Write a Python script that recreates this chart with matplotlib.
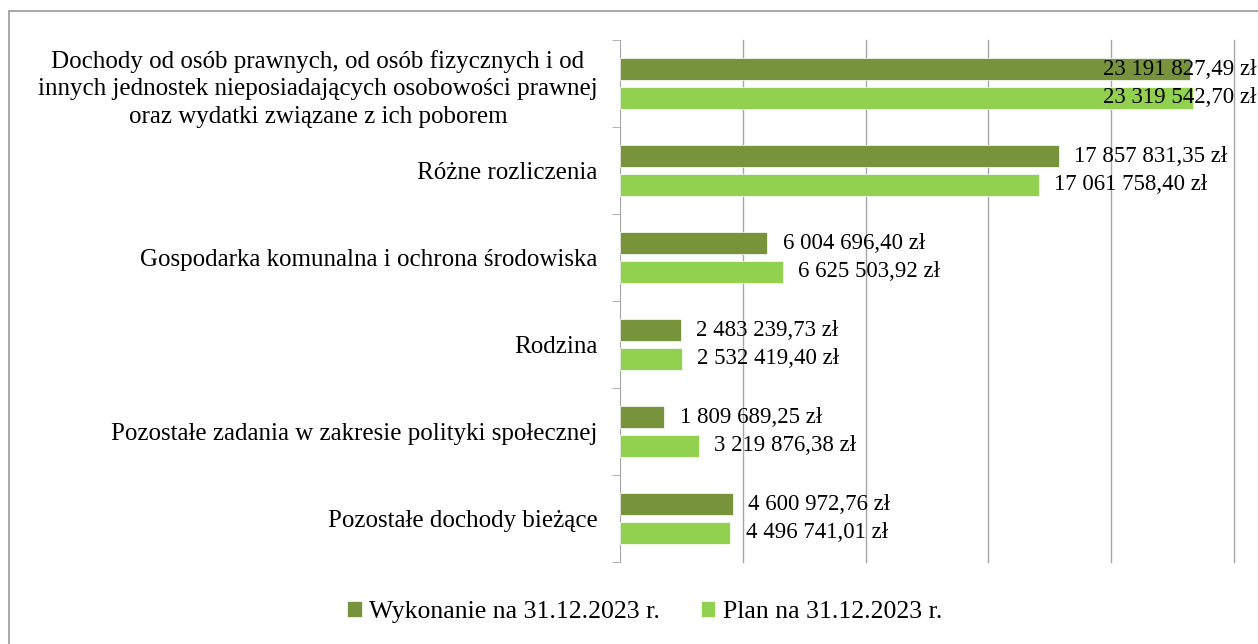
#!/usr/bin/env python3
"""Horizontal bar chart: wykonanie vs plan na 31.12.2023 r."""

import matplotlib

matplotlib.use("Agg")
import matplotlib.pyplot as plt
import numpy as np
from matplotlib.patches import Rectangle

categories = [
    "Dochody od osób prawnych, od osób fizycznych i od\ninnych jednostek nieposiadających osobowości prawnej\noraz wydatki związane z ich poborem",
    "Różne rozliczenia",
    "Gospodarka komunalna i ochrona środowiska",
    "Rodzina",
    "Pozostałe zadania w zakresie polityki społecznej",
    "Pozostałe dochody bieżące",
]
wykonanie = [23191827.49, 17857831.35, 6004696.40, 2483239.73, 1809689.25, 4600972.76]
plan = [23319542.70, 17061758.40, 6625503.92, 2532419.40, 3219876.38, 4496741.01]
series_names = ["Wykonanie na 31.12.2023 r.", "Plan na 31.12.2023 r."]

DARK = "#77933C"
LIGHT = "#92D050"
GRID = "#A6A6A6"
XMAX = 25_000_000


def fmt_pln(v: float) -> str:
    whole = int(v)
    grosze = int(round((v - whole) * 100))
    s = f"{whole:,}".replace(",", " ")
    return f"{s},{grosze:02d} zł"


plt.rcParams["font.family"] = ["Liberation Serif", "DejaVu Serif"]

fig = plt.figure(figsize=(12.58, 6.44), dpi=100)
# outer chart frame (bottom and right edges fall outside the picture)
fig.patches.append(
    Rectangle((8.5 / 1258, -0.05), 1.0, 1.05 - 10.5 / 644, transform=fig.transFigure,
              fill=False, edgecolor="#A0A0A0", linewidth=1.3)
)
ax = fig.add_axes([620 / 1258, 1 - 562 / 644, 614 / 1258, 522 / 644])

y = np.arange(len(categories))
h = 0.25
off = 0.165
ax.barh(y - off, wykonanie, height=h, color=DARK, edgecolor="white", linewidth=0.5, label=series_names[0], zorder=3)
ax.barh(y + off, plan, height=h, color=LIGHT, edgecolor="white", linewidth=0.5, label=series_names[1], zorder=3)

ax.set_xlim(0, XMAX)
ax.set_ylim(len(categories) - 0.5, -0.5)
ax.set_xticks(np.arange(5_000_000, XMAX + 1, 5_000_000))
ax.tick_params(axis="x", length=0, labelbottom=False)
ax.grid(axis="x", color=GRID, linewidth=1.0, zorder=0)
for gl in ax.xaxis.get_gridlines():
    gl.set_clip_on(False)

ax.set_yticks(y)
ax.set_yticklabels(categories, fontsize=18)
for t in ax.get_yticklabels():
    t.set_multialignment("center")
    t.set_linespacing(1.34)
ax.tick_params(axis="y", which="major", length=0, pad=16)
ax.set_yticks(np.arange(-0.5, len(categories)), minor=True)
ax.tick_params(axis="y", which="minor", length=6, color=GRID, direction="out")

for s in ["top", "right", "bottom"]:
    ax.spines[s].set_visible(False)
ax.spines["left"].set_color(GRID)

label_off = 0.62e6
label_max = 19.68e6
for vals, dy in ((wykonanie, -off), (plan, off)):
    for i, v in enumerate(vals):
        ax.text(min(v + label_off, label_max), i + dy, fmt_pln(v), va="center", ha="left",
                fontsize=16.5, zorder=4, clip_on=False)

leg = fig.legend(loc="center", bbox_to_anchor=(645 / 1258, 1 - 612 / 644), ncol=2, frameon=False,
                 fontsize=18.5, handlelength=0.55, handleheight=0.55, handletextpad=0.3, columnspacing=1.6)

fig.savefig("out.png", dpi=100)
